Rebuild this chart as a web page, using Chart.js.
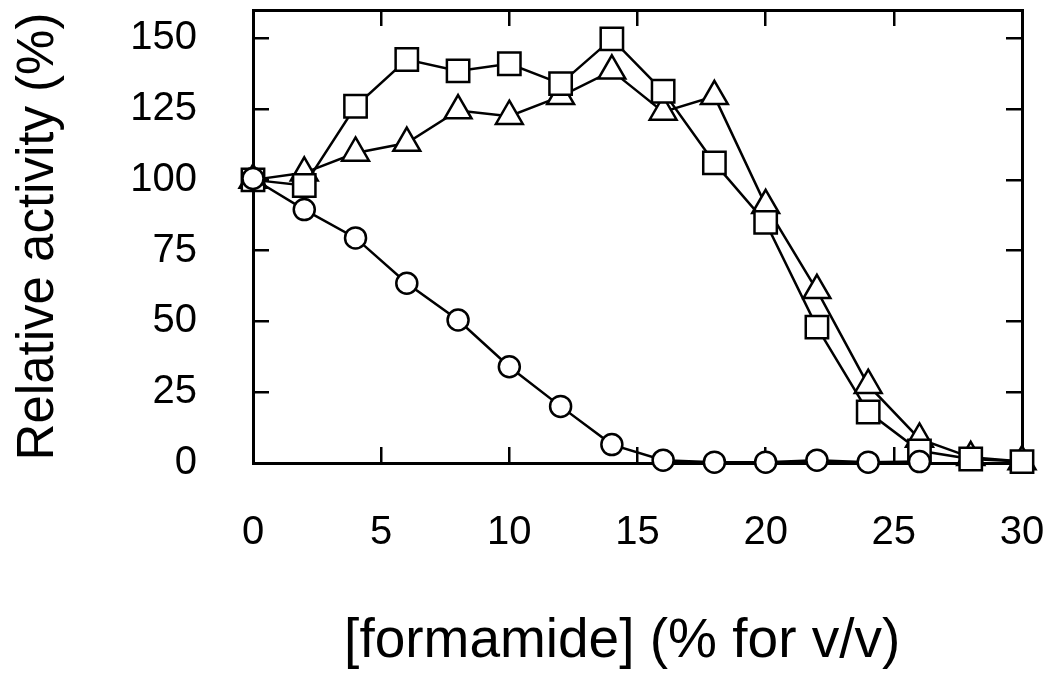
<!DOCTYPE html>
<html><head><meta charset="utf-8">
<script src="https://cdn.jsdelivr.net/npm/chart.js@4"></script>
<style>html,body{margin:0;padding:0;background:#fff}</style>
</head><body>
<canvas id="c" width="1052" height="679" style="display:block;width:1052px;height:679px"></canvas>
<script>
// ---- data ----
const xValues = [0, 2, 4, 6, 8, 10, 12, 14, 16, 18, 20, 22, 24, 26, 28, 30];
const squareValues = [100, 98, 126, 142.5, 138.5, 141, 134, 149.8, 131.3, 106, 85, 48, 18, 4.3, 1.4, 0.5];
const triangleValues = [100, 102.5, 109.5, 113, 124.5, 122.5, 129.5, 138.5, 124, 129.5, 91, 61, 27.5, 8.5, 2, 0.5];
const circleX = [0, 2, 4, 6, 8, 10, 12, 14, 16, 18, 20, 22, 24, 26];
const circleValues = [100.5, 89.5, 79.5, 63.5, 50.5, 34, 20, 6.5, 1, 0.3, 0.3, 1, 0.3, 0.5];
const xTickValues = [0, 5, 10, 15, 20, 25, 30];
const yTickValues = [0, 25, 50, 75, 100, 125, 150];
const xTitle = '[formamide] (% for v/v)';
const yTitle = 'Relative activity (%)';

const pts = (xs, ys) => xs.map((x, i) => ({x: x, y: ys[i]}));
const FONT = 'Liberation Sans, Arial, Helvetica, sans-serif';
const setTicks = (vals) => (s) => { s.ticks = vals.map(v => ({value: v})); };
const fixSize = (prop, val) => (s) => {
  s[prop] = val;
  s.paddingTop = 0; s.paddingBottom = 0; s.paddingLeft = 0; s.paddingRight = 0;
};

function ds(data, style, radius) {
  return {
    data: data, showLine: true, borderColor: '#000', borderWidth: 2.5,
    backgroundColor: '#fff', pointBackgroundColor: '#fff', pointBorderColor: '#000',
    pointBorderWidth: 2.5, pointStyle: style, pointRadius: radius, pointHoverRadius: radius,
    tension: 0, clip: false
  };
}

const gridCommon = {drawOnChartArea: false, drawTicks: true, tickLength: -16, color: '#000', lineWidth: 2.5};
const borderCommon = {display: true, color: '#000', width: 3};

new Chart(document.getElementById('c'), {
  type: 'scatter',
  data: {
    datasets: [
      ds(pts(circleX, circleValues), 'circle', 10.5),
      ds(pts(xValues, squareValues), 'rect', 15.8),
      ds(pts(xValues, triangleValues), 'triangle', 15.5)
    ]
  },
  options: {
    responsive: false, animation: false, devicePixelRatio: 1,
    layout: {padding: 0, autoPadding: false},
    plugins: {legend: {display: false}, tooltip: {enabled: false}},
    scales: {
      x: {
        type: 'linear', position: 'bottom', min: 0, max: 30,
        afterBuildTicks: setTicks(xTickValues),
        afterFit: fixSize('height', 216),
        grid: gridCommon, border: borderCommon,
        ticks: {color: '#000', font: {family: FONT, size: 40}, padding: 62, maxRotation: 0, autoSkip: false},
        title: {display: true, text: xTitle + '\u00a0\u00a0', color: '#000', font: {family: FONT, size: 55}, padding: {top: 0, bottom: 4}}
      },
      x2: {
        type: 'linear', position: 'top', min: 0, max: 30,
        afterBuildTicks: setTicks(xTickValues),
        afterFit: fixSize('height', 10),
        grid: gridCommon, border: borderCommon,
        ticks: {display: false}
      },
      y: {
        type: 'linear', position: 'left', min: 0, max: 160,
        afterBuildTicks: setTicks(yTickValues),
        afterFit: fixSize('width', 253),
        grid: gridCommon, border: borderCommon,
        ticks: {color: '#000', font: {family: FONT, size: 40}, padding: 72, labelOffset: 0},
        title: {display: true, text: yTitle, color: '#000', font: {family: FONT, size: 51}, padding: {top: 8, bottom: 0}}
      },
      y2: {
        type: 'linear', position: 'right', min: 0, max: 160,
        afterBuildTicks: setTicks(yTickValues),
        afterFit: fixSize('width', 30),
        grid: gridCommon, border: borderCommon,
        ticks: {display: false}
      }
    }
  }
});
</script>
</body></html>
